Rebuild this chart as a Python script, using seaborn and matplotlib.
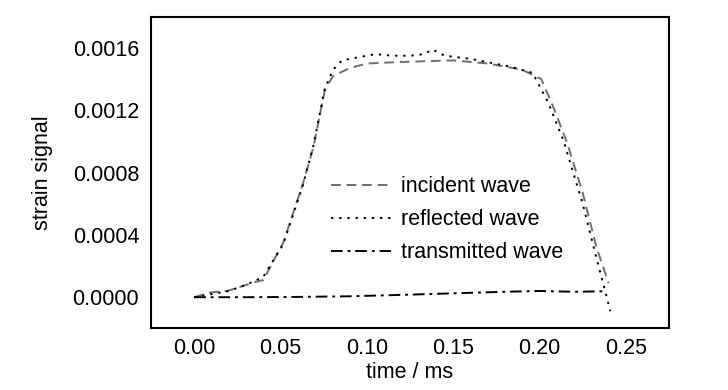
import numpy as np
import pandas as pd
import seaborn as sns
import matplotlib
matplotlib.use("Agg")
import matplotlib.pyplot as plt

# values
t_incident = [0.0, 0.009, 0.019, 0.025, 0.036, 0.040, 0.0516, 0.063, 0.069, 0.0757,
              0.0804, 0.09, 0.10, 0.12, 0.15, 0.17, 0.19, 0.201, 0.208, 0.216,
              0.225, 0.233, 0.240]
incident = [0.0, 0.00003, 0.00004, 0.00006, 0.00010, 0.00011, 0.00035, 0.00073, 0.00096, 0.00133,
            0.00142, 0.00147, 0.00150, 0.00151, 0.00152, 0.00150, 0.00146, 0.00140, 0.00122, 0.00099,
            0.00067, 0.00032, 0.00009]

t_reflected = [0.0, 0.010, 0.020, 0.030, 0.040, 0.0516, 0.063, 0.069, 0.0757, 0.0804,
               0.0856, 0.095, 0.105, 0.115, 0.125, 0.133, 0.138, 0.145, 0.160, 0.183,
               0.196, 0.205, 0.214, 0.225, 0.233, 0.238, 0.241]
reflected = [0.0, 0.00002, 0.00004, 0.00008, 0.00013, 0.00034, 0.00072, 0.00097, 0.00134, 0.00146,
             0.00152, 0.00154, 0.00156, 0.00155, 0.00155, 0.00156, 0.00159, 0.00155, 0.00153, 0.00148,
             0.00144, 0.00125, 0.00100, 0.00060, 0.00025, 0.00004, -0.00009]

t_transmitted = [0.0, 0.03, 0.06, 0.09, 0.12, 0.15, 0.18, 0.20, 0.22, 0.237]
transmitted = [0.0, 0.0, 0.000002, 0.000006, 0.000015, 0.000025, 0.000035, 0.00004, 0.000035, 0.000038]

xticks = [0.00, 0.05, 0.10, 0.15, 0.20, 0.25]
yticks = [0.0000, 0.0004, 0.0008, 0.0012, 0.0016]

sns.set_theme(style="white")
plt.rcParams['font.family'] = ['Liberation Sans', 'DejaVu Sans']
plt.rcParams['text.color'] = 'black'

fs = 15.5
fig = plt.figure(figsize=(7.28, 3.9), dpi=100)
ax = fig.add_axes([0.2074, 0.158, 0.7116, 0.799])

sns.lineplot(x=t_incident, y=incident, ax=ax, color='#6e6e6e', lw=1.4,
             linestyle=(0, (5, 3)), label='incident wave')
sns.lineplot(x=t_reflected, y=reflected, ax=ax, color='black', lw=1.4,
             linestyle=(0, (1.2, 3)), label='reflected wave')
sns.lineplot(x=t_transmitted, y=transmitted, ax=ax, color='black', lw=1.4,
             linestyle=(0, (6, 2.5, 1.5, 2.5)), label='transmitted wave')

ax.set_xlim(-0.025, 0.275)
ax.set_ylim(-0.0002, 0.0018)
ax.set_xticks(xticks)
ax.set_xticklabels([f"{v:.2f}" for v in xticks])
ax.set_yticks(yticks)
ax.set_yticklabels([f"{v:.4f}" for v in yticks])

for s in ax.spines.values():
    s.set_color('black')
    s.set_linewidth(1.5)
ax.tick_params(axis='x', direction='in', length=5, width=1.3, labelsize=fs, colors='black', pad=7)
ax.tick_params(axis='y', direction='out', length=5, width=1.3, labelsize=fs, colors='black')

ax.set_xlabel('time / ms', fontsize=fs, color='black', labelpad=2)
ax.set_ylabel('strain signal', fontsize=fs, color='black', labelpad=14)

leg = ax.legend(loc='upper left', bbox_to_anchor=(0.31, 0.55), frameon=False, fontsize=fs,
                handlelength=2.8, handletextpad=0.45, labelspacing=0.55)
for txt in leg.get_texts():
    txt.set_color('black')

fig.savefig('out.png', dpi=100)
